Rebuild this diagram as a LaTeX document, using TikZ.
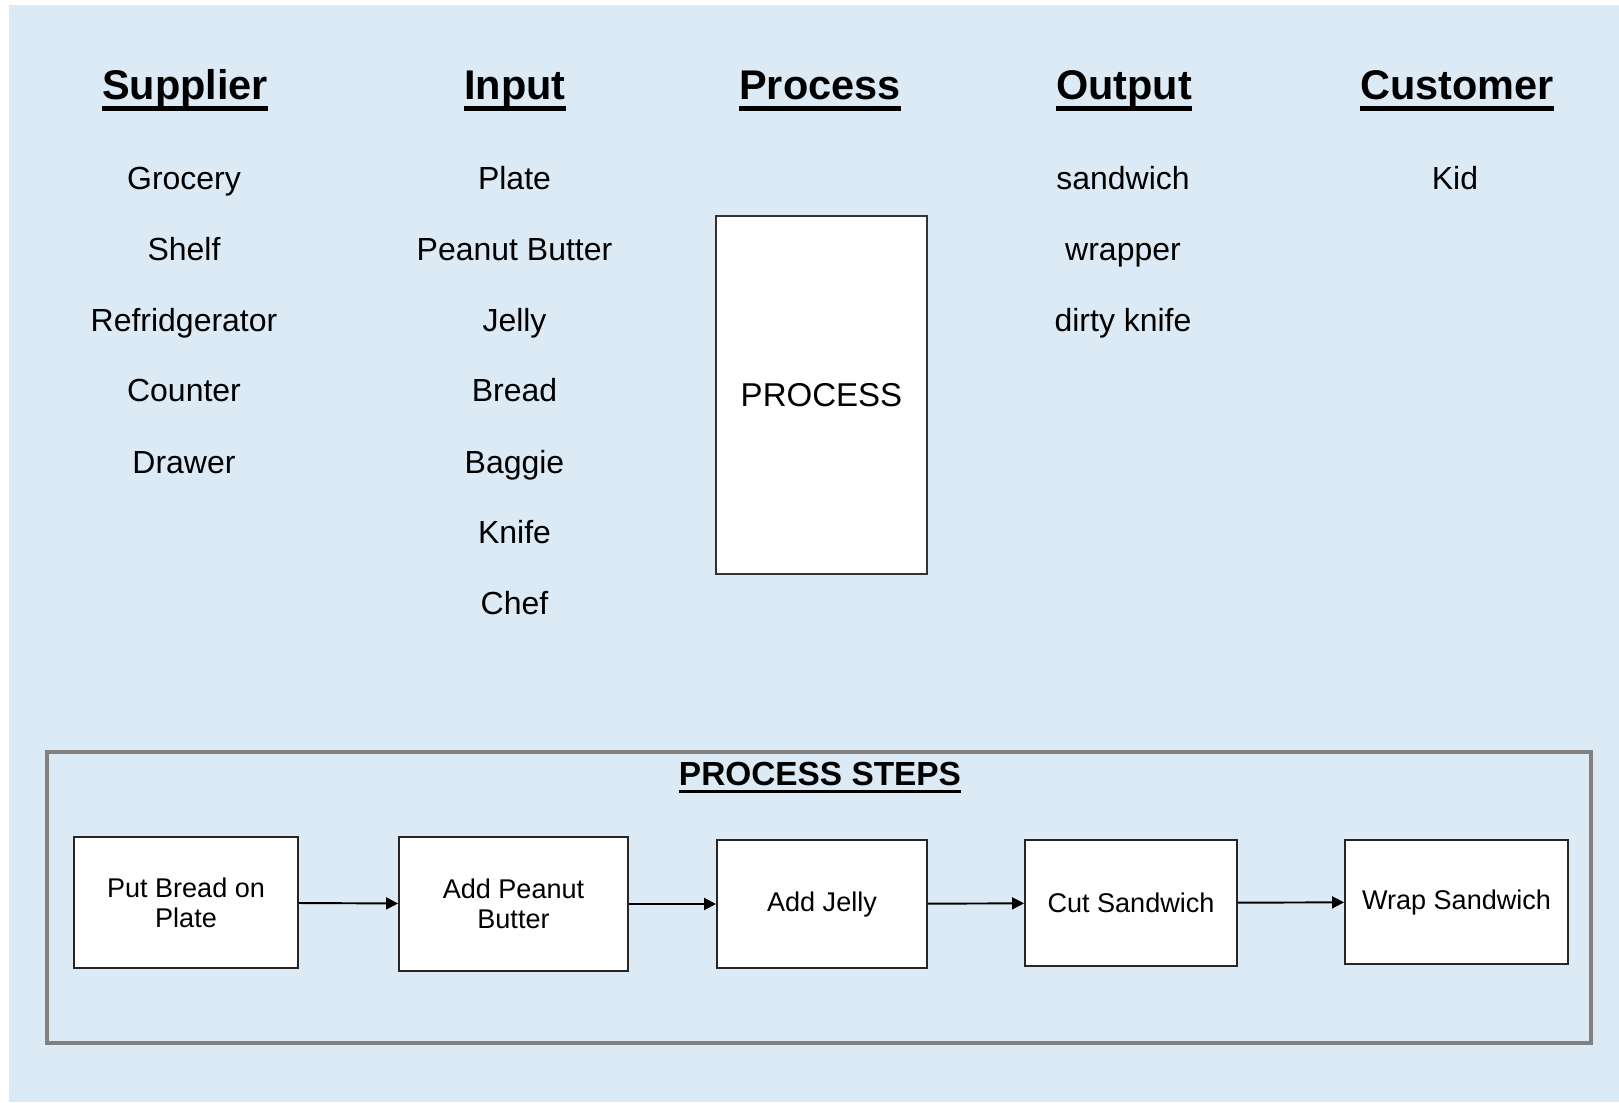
\documentclass[tikz,border=0pt]{standalone}
\usepackage{fontspec}
\setmainfont{Liberation Sans}
\usetikzlibrary{arrows.meta}

\definecolor{bgblue}{RGB}{219,234,245}
\definecolor{framegray}{RGB}{128,128,128}

% underlined heading: #1 depth of rule bottom, #2 rule thickness, #3 text
\newcommand{\headul}[3]{\setbox0\hbox{#3}\rlap{\rule[-#1]{\wd0}{#2}}\box0}

\begin{document}
\begin{tikzpicture}

        \useasboundingbox (0,0) rectangle (16.19,11.02);
        \fill[bgblue] (0.09,0) rectangle (16.19,10.97);

        % column headings
        \begin{scope}[every node/.style={anchor=base, font=\fontsize{11.8}{14}\selectfont\bfseries}]
          \node (sup)  at (1.85,10.02)  {\headul{3pt}{1.3pt}{Supplier}};
          \node (inp)  at (5.15,10.02)  {\headul{3pt}{1.3pt}{Input}};
          \node (pro)  at (8.20,10.02)  {\headul{3pt}{1.3pt}{Process}};
          \node (out)  at (11.24,10.02) {\headul{3pt}{1.3pt}{Output}};
          \node (cus)  at (14.57,10.02) {\headul{3pt}{1.3pt}{Customer}};
        \end{scope}

        % column entries
        \begin{scope}[every node/.style={anchor=base, font=\fontsize{9.1}{11}\selectfont}]
          \node (sup1) at (1.84,9.12) {Grocery};
          \node (sup2) at (1.84,8.41) {Shelf};
          \node (sup3) at (1.84,7.70) {Refridgerator};
          \node (sup4) at (1.84,7.00) {Counter};
          \node (sup5) at (1.84,6.29) {Drawer};

          \node (inp1) at (5.145,9.12) {Plate};
          \node (inp2) at (5.145,8.41) {Peanut Butter};
          \node (inp3) at (5.145,7.70) {Jelly};
          \node (inp4) at (5.145,7.00) {Bread};
          \node (inp5) at (5.145,6.29) {Baggie};
          \node (inp6) at (5.145,5.58) {Knife};
          \node (inp7) at (5.145,4.87) {Chef};

          \node (out1) at (11.23,9.12) {sandwich};
          \node (out2) at (11.23,8.41) {wrapper};
          \node (out3) at (11.23,7.70) {dirty knife};

          \node (cus1) at (14.55,9.12) {Kid};
        \end{scope}

        \node[draw=black!80, fill=white, line width=0.6pt, minimum width=2.11cm,
              minimum height=3.58cm, font=\fontsize{9.4}{11}\selectfont] (proc) at (8.215,7.07) {PROCESS};

        % process steps
        \draw[framegray, line width=0.9pt] (0.47,0.59) rectangle (15.91,3.50);
        \node[anchor=base, font=\fontsize{9.5}{11}\selectfont\bfseries] (steps) at (8.20,3.17)
             {\headul{2.3pt}{0.9pt}{PROCESS STEPS}};

        \begin{scope}[every node/.style={draw=black!85, fill=white, line width=0.55pt, inner sep=0pt,
                      align=center, font=\fontsize{7.7}{8.5}\selectfont}]
          \node[minimum width=2.24cm, minimum height=1.31cm] (s1) at (1.86,1.995)   {Put Bread on\\Plate};
          \node[minimum width=2.29cm, minimum height=1.34cm] (s2) at (5.135,1.98)   {Add Peanut\\Butter};
          \node[minimum width=2.10cm, minimum height=1.28cm] (s3) at (8.22,1.98)    {Add Jelly};
          \node[minimum width=2.12cm, minimum height=1.26cm] (s4) at (11.31,1.99)   {Cut Sandwich};
          \node[minimum width=2.23cm, minimum height=1.24cm] (s5) at (14.565,2.00)  {Wrap Sandwich};
        \end{scope}

        \begin{scope}[every edge/.style={draw, line width=0.55pt, -{Triangle[length=3.4pt, width=3.4pt]}}]
          \path (s1) edge (s2);
          \path (s2) edge (s3);
          \path (s3) edge (s4);
          \path (s4) edge (s5);
        \end{scope}

      \end{tikzpicture}
\end{document}
